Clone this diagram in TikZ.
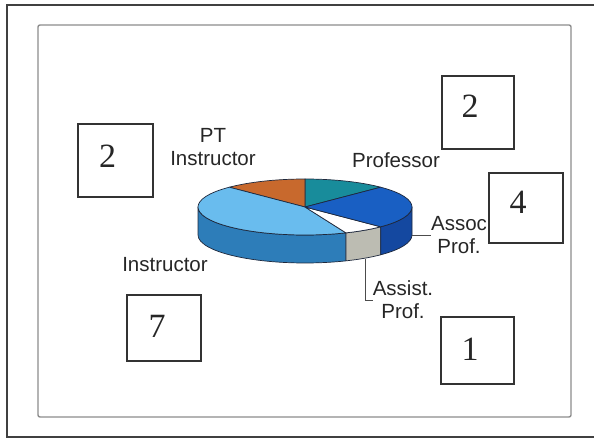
\documentclass[tikz,border=0pt]{standalone}
\usepackage{fontspec}
\setmainfont{Liberation Sans}
\newfontfamily\numfont{Liberation Serif}
\definecolor{profcol}{RGB}{24,140,155}
\definecolor{ptcol}{RGB}{200,105,45}
\definecolor{instrtop}{RGB}{105,188,238}
\definecolor{instrside}{RGB}{45,125,185}
\definecolor{assoctop}{RGB}{25,95,195}
\definecolor{assocside}{RGB}{20,72,160}
\definecolor{assistside}{RGB}{188,188,178}
\definecolor{edgecol}{RGB}{30,40,60}
\begin{document}
\begin{tikzpicture}[x=1pt,y=1pt,
  lab/.style={font=\fontsize{20.5}{23}\selectfont, align=center, text=black!85, inner sep=0pt},
  numbox/.style={draw=black!80, line width=1.6pt, rectangle, inner sep=0pt},
  num/.style={font=\numfont\fontsize{34}{34}\selectfont, text=black!85, inner sep=0pt},
  pieedge/.style={draw=edgecol, line width=0.7pt, line join=round},
  leader/.style={draw=black!70, line width=0.8pt}]
\useasboundingbox (0,0) rectangle (594,439);
% frames
\draw[black!75, line width=2.4pt] (600,434) -- (7,434) -- (7,2) -- (600,2);
\draw[black!45, line width=1.4pt, rounded corners=2pt] (38,22) rectangle (571,414);
% pie sides
\filldraw[pieedge, fill=instrside] (198,232) arc[start angle=180, end angle=292.5, x radius=107, y radius=28] -- ++(0,-28) arc[start angle=292.5, end angle=180, x radius=107, y radius=28] -- cycle;
\filldraw[pieedge, fill=assistside] (305,232) ++(292.5:107 and 28) arc[start angle=292.5, end angle=315, x radius=107, y radius=28] -- ++(0,-28) arc[start angle=315, end angle=292.5, x radius=107, y radius=28] -- cycle;
\filldraw[pieedge, fill=assocside] (305,232) ++(315:107 and 28) arc[start angle=315, end angle=360, x radius=107, y radius=28] -- ++(0,-28) arc[start angle=360, end angle=315, x radius=107, y radius=28] -- cycle;
% pie top
\filldraw[pieedge, fill=profcol] (305,232) -- ++(45:107 and 28) arc[start angle=45, end angle=90, x radius=107, y radius=28] -- cycle;
\filldraw[pieedge, fill=ptcol] (305,232) -- ++(90:107 and 28) arc[start angle=90, end angle=135, x radius=107, y radius=28] -- cycle;
\filldraw[pieedge, fill=instrtop] (305,232) -- ++(135:107 and 28) arc[start angle=135, end angle=292.5, x radius=107, y radius=28] -- cycle;
\filldraw[pieedge, fill=white] (305,232) -- ++(292.5:107 and 28) arc[start angle=292.5, end angle=315, x radius=107, y radius=28] -- cycle;
\filldraw[pieedge, fill=assoctop] (305,232) -- ++(315:107 and 28) arc[start angle=315, end angle=405, x radius=107, y radius=28] -- cycle;
% leader anchors
\coordinate (assocpt) at (412,204);
\coordinate (assistpt) at (365,180);
% labels
\node[lab] (ptlab) at (213,292) {PT\\Instructor};
\node[lab] (proflab) at (396,279) {Professor};
\node[lab] (instrlab) at (165,174) {Instructor};
\node[lab] (assoclab) at (459,204) {Assoc\\Prof.};
\node[lab] (assistlab) at (403,139) {Assist.\\Prof.};
\draw[leader] (assocpt) -- (assoclab.west |- assocpt);
\draw[leader] (assistpt) |- (assistlab.west);
% boxes
\node[numbox, minimum width=72, minimum height=73] (b1) at (478,326.5) {};
\node[num] (n1) at (470,333) {2};
\node[numbox, minimum width=74, minimum height=70] (b2) at (526,231) {};
\node[num] (n2) at (518,237) {4};
\node[numbox, minimum width=75, minimum height=73] (b3) at (115.5,278.5) {};
\node[num] (n3) at (107.5,283) {2};
\node[numbox, minimum width=74, minimum height=66] (b4) at (164,111) {};
\node[num] (n4) at (157,113) {7};
\node[numbox, minimum width=73, minimum height=67] (b5) at (477.5,88.5) {};
\node[num] (n5) at (470,90) {1};
\end{tikzpicture}
\end{document}
